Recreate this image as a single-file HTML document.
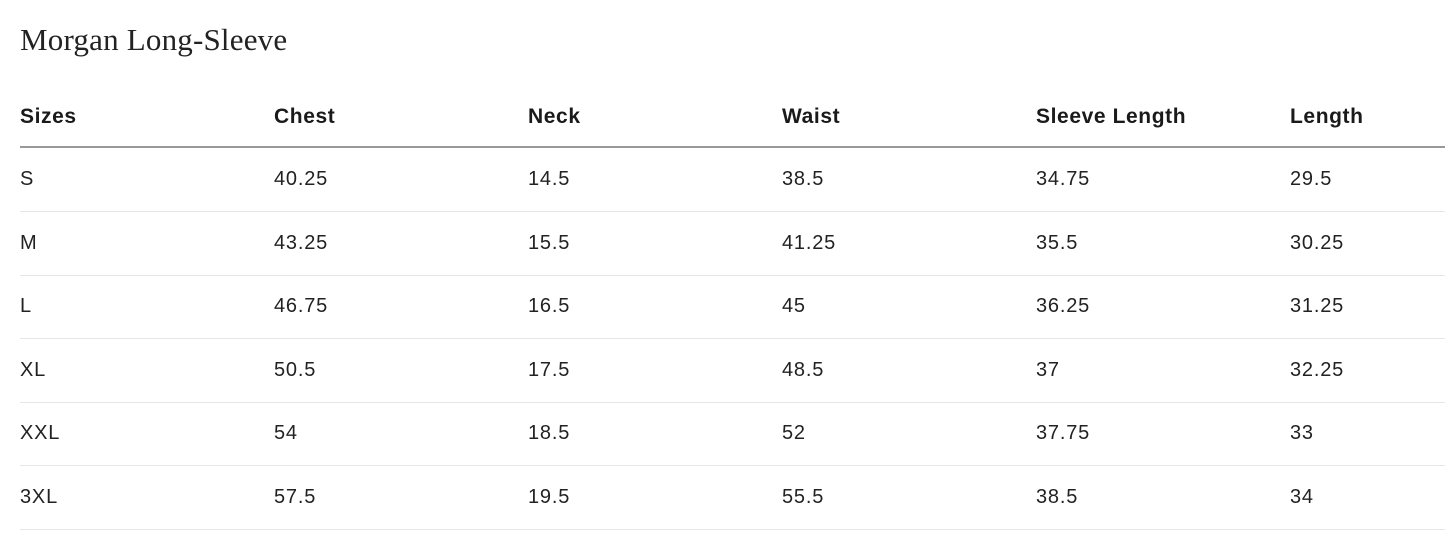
<!DOCTYPE html>
<html><head><style>
body{margin:0;background:#fff;width:1445px;height:549px;overflow:hidden;font-family:"Liberation Sans",sans-serif;color:#222}
h1{position:absolute;left:20px;top:22px;margin:0;font-family:"Liberation Serif",serif;font-weight:normal;font-size:31px;letter-spacing:0.2px;color:#222}
.row{position:absolute;left:20px;width:1425px;height:63px}
.c{position:absolute;top:0;line-height:63px;font-size:20px;letter-spacing:0.8px}
.h .c{font-weight:bold;font-size:21px;letter-spacing:0.6px;color:#1a1a1a;top:2px}
</style></head><body>
<h1>Morgan Long-Sleeve</h1>
<div class="row h" style="top:83px;border-bottom:2px solid #999;height:63px">
<span class="c" style="left:0">Sizes</span><span class="c" style="left:254px">Chest</span><span class="c" style="left:508px">Neck</span><span class="c" style="left:762px">Waist</span><span class="c" style="left:1016px">Sleeve Length</span><span class="c" style="left:1270px">Length</span></div>
<div id="rows"></div>
<script>
var d=[["S","40.25","14.5","38.5","34.75","29.5"],["M","43.25","15.5","41.25","35.5","30.25"],["L","46.75","16.5","45","36.25","31.25"],["XL","50.5","17.5","48.5","37","32.25"],["XXL","54","18.5","52","37.75","33"],["3XL","57.5","19.5","55.5","38.5","34"]];
var h="";d.forEach(function(r,i){h+='<div class="row" style="top:'+(148+i*63.6)+'px;border-bottom:1px solid #e6e6e6">';r.forEach(function(v,j){h+='<span class="c" style="left:'+(j*254)+'px">'+v+'</span>'});h+='</div>'});
document.getElementById("rows").innerHTML=h;
</script>
</body></html>
